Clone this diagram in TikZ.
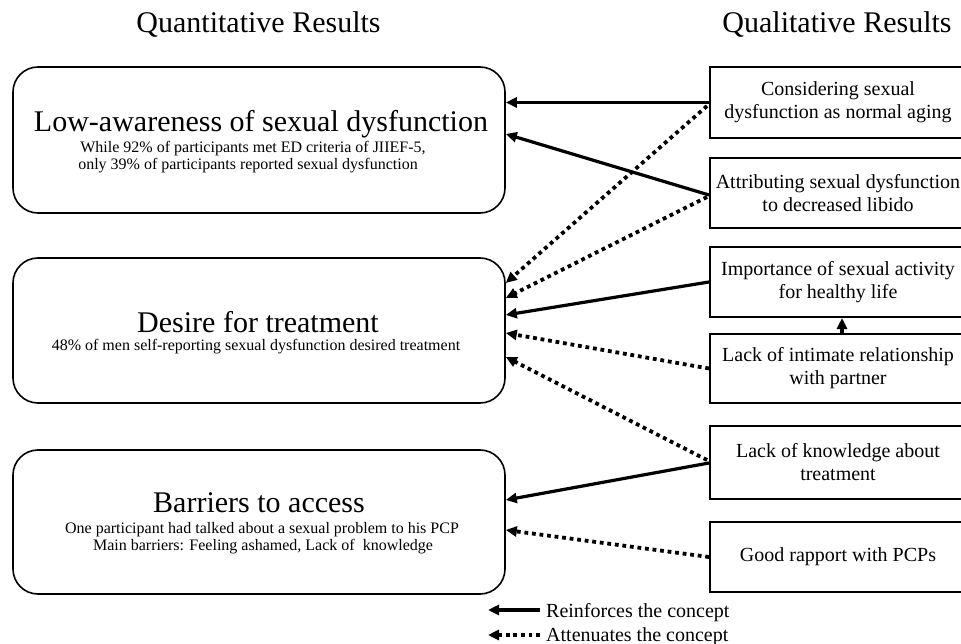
\documentclass[tikz,border=0pt]{standalone}
\usepackage{fontspec}
\setmainfont{Liberation Serif}
\usetikzlibrary{arrows.meta,calc}
\tikzset{
  qbox/.style={draw, rounded corners=25pt, line width=1.6pt, minimum width=492pt, minimum height=146pt, inner sep=0pt},
  rbox/.style={draw, line width=2pt, minimum width=256pt, minimum height=70pt, align=center, inner sep=0pt, font=\fontsize{20}{23}\selectfont},
  head/.style={font=\fontsize{30}{34}\selectfont, inner sep=0pt, anchor=base},
  ttl/.style={font=\fontsize{30}{34}\selectfont, inner sep=0pt, anchor=base},
  sub/.style={font=\fontsize{16}{17}\selectfont, inner sep=0pt, anchor=base},
  lg/.style={font=\fontsize{20}{23}\selectfont, inner sep=0pt, anchor=base west},
  reinf/.style={line width=3.2pt, -{Triangle[length=11pt,width=10pt]}},
  atten/.style={line width=3.8pt, dash pattern=on 3.8pt off 3.8pt, -{Triangle[length=11pt,width=10pt]}},
}
\begin{document}
\begin{tikzpicture}[x=1pt,y=-1pt]
\useasboundingbox (0,0) rectangle (961,644);
% headings
\node[head] (hq) at (258.5,33) {Quantitative Results};
\node[head] (hl) at (837,33) {Qualitative Results};
% left boxes
\node[qbox] (q1) at (259,140) {};
\node[qbox, minimum height=145pt] (q2) at (259,330.5) {};
\node[qbox, minimum height=144pt] (q3) at (259,522) {};
\node[ttl] (q1t) at (261,132) {Low-awareness of sexual dysfunction};
\node[sub] (q1a) at (253,153) {While 92\% of participants met ED criteria of JIIEF-5,};
\node[sub] (q1b) at (248,170) {only 39\% of participants reported sexual dysfunction};
\node[ttl] (q2t) at (258,332) {Desire for treatment};
\node[sub] (q2a) at (256,350) {48\% of men self-reporting sexual dysfunction desired treatment};
\node[ttl] (q3t) at (259,512) {Barriers to access};
\node[sub] (q3a) at (262,533) {One participant had talked about a sexual problem to his PCP};
\node[sub] (q3b) at (263,550) {Main barriers: Feeling ashamed, Lack of~ knowledge};
% right boxes
\node[rbox, minimum height=71pt] (rA) at (838,102.5) {Considering sexual\\dysfunction as normal aging};
\node[rbox] (rB) at (838,193) {Attributing sexual dysfunction\\to decreased libido};
\node[rbox] (rC) at (838,282) {Importance of sexual activity\\for healthy life};
\node[rbox, minimum height=69pt] (rD) at (838,368.5) {Lack of intimate relationship\\with partner};
\node[rbox, minimum height=73pt] (rE) at (838,462.5) {Lack of knowledge about\\treatment};
\node[rbox] (rF) at (838,557) {Good rapport with PCPs};
% connectors
\draw[reinf] (rA.west) -- (rA.west -| q1.east);
\draw[reinf] ($(rB.west)+(0,2)$) -- ($(q1.east)+(0,-6)$);
\draw[atten] ($(rA.west)+(-2,3.5)$) -- ($(q2.east)+(0,-47.5)$);
\draw[atten] ($(rB.west)+(-2,4)$) -- ($(q2.east)+(0,-32.5)$);
\draw[reinf] (rC.west) -- ($(q2.east)+(0,-15.5)$);
\draw[atten] (rD.west) -- ($(q2.east)+(0,2.5)$);
\draw[atten] ($(rE.west)+(-2,-2.5)$) -- ($(q2.east)+(0,26.5)$);
\draw[reinf] ($(rE.west)+(0,0.5)$) -- ($(q3.east)+(0,-22)$);
\draw[atten] (rF.west) -- ($(q3.east)+(0,8)$);
\draw[atten] ($(rD.north)+(4,0)$) -- ($(rC.south)+(4,0)$);
% legend
\coordinate (l1a) at (540,610);
\coordinate (l1b) at (488,610);
\coordinate (l2a) at (540,635);
\coordinate (l2b) at (488,635);
\draw[reinf] (l1a) -- (l1b);
\draw[atten] (l2a) -- (l2b);
\node[lg] (lt1) at (546,617) {Reinforces the concept};
\node[lg] (lt2) at (546,641) {Attenuates the concept};
\end{tikzpicture}
\end{document}
